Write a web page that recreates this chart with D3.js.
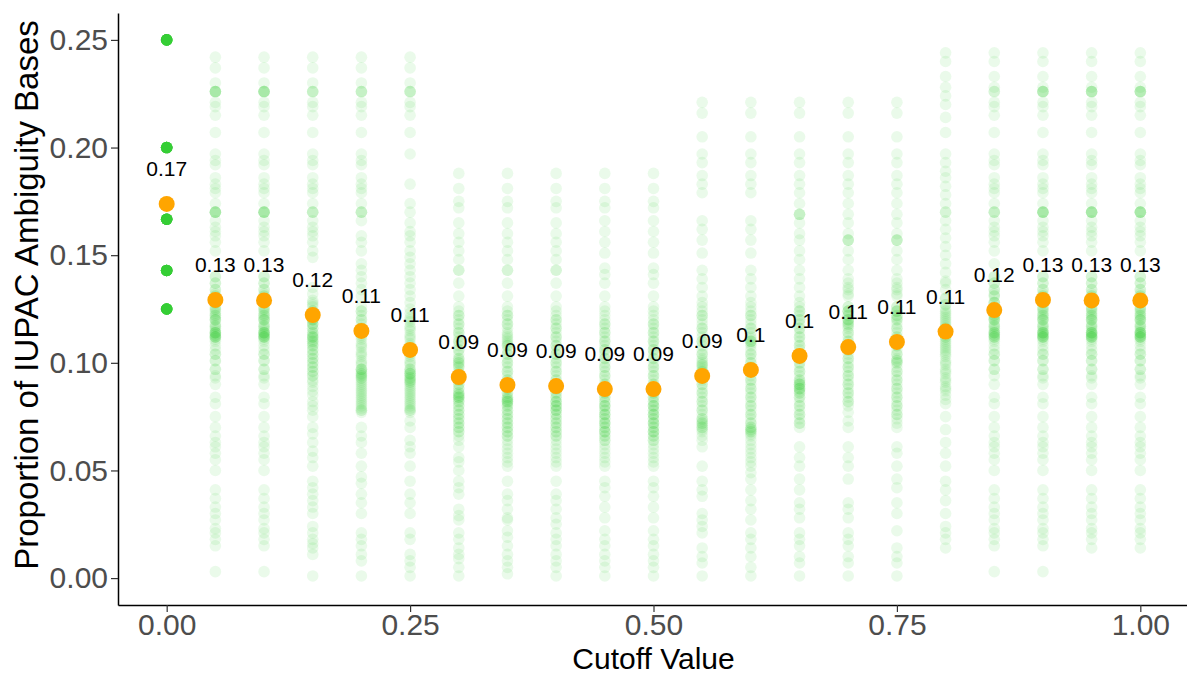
<!DOCTYPE html>
<html>
<head>
<meta charset="utf-8">
<script src="https://cdn.jsdelivr.net/npm/d3@7"></script>
<style>
  body { margin: 0; background: #fff; }
  text { font-family: "Liberation Sans", Arial, sans-serif; }
</style>
</head>
<body>
<div id="chart"></div>
<script>
// cutoff values on the x axis
var cutoffs = [0, 0.05, 0.1, 0.15, 0.2, 0.25, 0.3, 0.35, 0.4, 0.45, 0.5,
  0.55, 0.6, 0.65, 0.7, 0.75, 0.8, 0.85, 0.9, 0.95, 1.0];

// cutoff 0 only has a few distinct values, each repeated many times
var zeroValues = [0.25, 0.2, 0.1667, 0.1429, 0.125];
var zeroCounts = [30, 30, 30, 30, 30];

// per-sample proportions for each other cutoff (spread)
var col005 = [0.242,0.237,0.230,0.226,0.226,0.226,0.221,0.219,0.215,0.207,0.197,0.194,0.192,0.186,0.183,0.181,0.179,0.174,0.170,0.170,0.170,0.166,0.163,0.161,0.159,0.156,0.152,0.140,0.137,0.134,0.131,0.131,0.128,0.128,0.125,0.125,0.122,0.120,0.120,0.117,0.117,0.114,0.114,0.112,0.112,0.110,0.106,0.104,0.101,0.097,0.094,0.090,0.084,0.081,0.075,0.070,0.066,0.063,0.061,0.058,0.055,0.050,0.041,0.037,0.033,0.030,0.027,0.023,0.021,0.018,0.015,0.003];
var col010 = [0.242,0.237,0.230,0.226,0.226,0.226,0.221,0.219,0.215,0.207,0.197,0.194,0.192,0.186,0.183,0.181,0.179,0.174,0.170,0.170,0.170,0.166,0.163,0.161,0.159,0.156,0.152,0.140,0.137,0.134,0.131,0.131,0.128,0.128,0.125,0.125,0.122,0.120,0.120,0.117,0.117,0.114,0.114,0.112,0.112,0.110,0.106,0.104,0.101,0.097,0.094,0.090,0.084,0.081,0.075,0.070,0.066,0.063,0.061,0.058,0.055,0.050,0.041,0.037,0.033,0.030,0.027,0.023,0.021,0.018,0.015,0.003];
var col015 = [0.242,0.237,0.230,0.226,0.226,0.221,0.219,0.215,0.207,0.197,0.194,0.192,0.186,0.183,0.181,0.179,0.174,0.170,0.170,0.166,0.163,0.161,0.159,0.156,0.152,0.149,0.135,0.132,0.129,0.127,0.124,0.122,0.120,0.118,0.116,0.114,0.112,0.112,0.110,0.108,0.106,0.104,0.102,0.100,0.098,0.096,0.094,0.091,0.089,0.087,0.085,0.082,0.080,0.078,0.075,0.070,0.067,0.063,0.059,0.056,0.052,0.045,0.042,0.039,0.036,0.033,0.030,0.024,0.021,0.018,0.016,0.014,0.011,0.001];
var col020 = [0.242,0.237,0.230,0.226,0.226,0.221,0.219,0.215,0.207,0.197,0.194,0.192,0.186,0.183,0.181,0.179,0.174,0.170,0.170,0.166,0.159,0.156,0.152,0.146,0.143,0.140,0.137,0.134,0.131,0.126,0.124,0.122,0.120,0.118,0.116,0.113,0.111,0.109,0.107,0.105,0.103,0.101,0.099,0.097,0.095,0.093,0.091,0.089,0.087,0.085,0.083,0.081,0.079,0.077,0.070,0.066,0.063,0.058,0.052,0.047,0.044,0.039,0.035,0.030,0.021,0.018,0.015,0.011,0.008,0.001];
var col025 = [0.242,0.237,0.230,0.226,0.226,0.221,0.219,0.215,0.207,0.197,0.183,0.174,0.170,0.165,0.161,0.159,0.156,0.152,0.149,0.146,0.143,0.140,0.137,0.134,0.131,0.128,0.125,0.123,0.121,0.119,0.117,0.115,0.113,0.111,0.109,0.107,0.105,0.103,0.101,0.099,0.097,0.095,0.093,0.091,0.089,0.087,0.085,0.083,0.081,0.079,0.077,0.073,0.070,0.064,0.061,0.058,0.052,0.045,0.039,0.035,0.030,0.021,0.018,0.011,0.008,0.005,0.001];
var col030 = [0.188,0.181,0.175,0.172,0.165,0.160,0.156,0.152,0.148,0.143,0.143,0.137,0.131,0.126,0.124,0.122,0.120,0.118,0.116,0.114,0.112,0.110,0.108,0.106,0.104,0.102,0.100,0.098,0.096,0.094,0.092,0.090,0.088,0.086,0.084,0.082,0.080,0.078,0.076,0.074,0.072,0.070,0.068,0.066,0.064,0.061,0.056,0.054,0.050,0.045,0.042,0.039,0.032,0.029,0.027,0.021,0.018,0.014,0.011,0.009,0.005,0.001];
var col035 = [0.188,0.181,0.175,0.172,0.165,0.160,0.156,0.152,0.148,0.143,0.143,0.137,0.131,0.126,0.124,0.122,0.120,0.118,0.116,0.114,0.112,0.110,0.108,0.106,0.104,0.102,0.100,0.098,0.096,0.094,0.092,0.090,0.088,0.086,0.084,0.082,0.080,0.078,0.076,0.074,0.072,0.070,0.068,0.066,0.064,0.062,0.060,0.058,0.056,0.054,0.052,0.045,0.039,0.036,0.032,0.028,0.027,0.022,0.019,0.015,0.011,0.008,0.005,0.002];
var col040 = [0.188,0.181,0.175,0.172,0.165,0.160,0.156,0.152,0.148,0.143,0.143,0.137,0.131,0.126,0.124,0.122,0.120,0.118,0.116,0.114,0.112,0.110,0.108,0.106,0.104,0.102,0.100,0.098,0.096,0.094,0.092,0.090,0.088,0.086,0.084,0.082,0.080,0.078,0.076,0.074,0.072,0.070,0.068,0.066,0.064,0.062,0.060,0.058,0.056,0.054,0.052,0.045,0.039,0.036,0.032,0.028,0.025,0.021,0.018,0.015,0.011,0.008,0.005,0.001];
var col045 = [0.188,0.181,0.175,0.172,0.166,0.161,0.156,0.151,0.144,0.141,0.137,0.131,0.126,0.124,0.122,0.120,0.118,0.116,0.114,0.112,0.110,0.108,0.106,0.104,0.102,0.100,0.098,0.096,0.094,0.092,0.090,0.088,0.086,0.084,0.082,0.080,0.078,0.076,0.074,0.072,0.070,0.068,0.066,0.064,0.062,0.060,0.058,0.056,0.054,0.052,0.045,0.042,0.038,0.033,0.028,0.022,0.018,0.015,0.011,0.008,0.005,0.001];
var col050 = [0.188,0.181,0.175,0.172,0.166,0.161,0.156,0.151,0.144,0.141,0.137,0.131,0.126,0.124,0.122,0.120,0.118,0.116,0.114,0.112,0.110,0.108,0.106,0.104,0.102,0.100,0.098,0.096,0.094,0.092,0.090,0.088,0.086,0.084,0.082,0.080,0.078,0.076,0.074,0.072,0.070,0.068,0.066,0.064,0.062,0.060,0.058,0.056,0.054,0.052,0.045,0.042,0.038,0.033,0.028,0.022,0.018,0.015,0.011,0.008,0.005,0.001];
var col055 = [0.221,0.216,0.205,0.197,0.193,0.187,0.183,0.179,0.166,0.162,0.157,0.151,0.143,0.139,0.135,0.131,0.126,0.124,0.122,0.120,0.118,0.116,0.114,0.112,0.110,0.108,0.106,0.104,0.102,0.100,0.098,0.096,0.094,0.092,0.090,0.088,0.086,0.084,0.082,0.080,0.078,0.076,0.074,0.072,0.070,0.068,0.066,0.064,0.061,0.052,0.045,0.041,0.038,0.030,0.027,0.024,0.021,0.014,0.010,0.007,0.001];
var col060 = [0.221,0.216,0.205,0.197,0.193,0.187,0.183,0.179,0.166,0.162,0.157,0.151,0.143,0.139,0.135,0.131,0.126,0.124,0.122,0.120,0.118,0.116,0.114,0.112,0.110,0.108,0.106,0.104,0.102,0.100,0.098,0.096,0.094,0.092,0.090,0.088,0.086,0.084,0.082,0.080,0.078,0.076,0.074,0.072,0.070,0.068,0.066,0.064,0.062,0.060,0.058,0.056,0.054,0.052,0.049,0.046,0.041,0.036,0.032,0.027,0.021,0.018,0.014,0.010,0.005,0.001];
var col065 = [0.221,0.216,0.205,0.197,0.193,0.187,0.183,0.179,0.174,0.169,0.169,0.165,0.160,0.157,0.152,0.148,0.143,0.139,0.135,0.131,0.126,0.124,0.122,0.120,0.118,0.116,0.114,0.112,0.110,0.108,0.106,0.104,0.102,0.100,0.098,0.096,0.094,0.092,0.090,0.088,0.086,0.084,0.082,0.080,0.078,0.076,0.074,0.072,0.070,0.061,0.056,0.052,0.046,0.041,0.035,0.032,0.028,0.021,0.018,0.015,0.010,0.007,0.001];
var col070 = [0.221,0.216,0.205,0.197,0.193,0.187,0.183,0.179,0.174,0.169,0.165,0.160,0.157,0.157,0.152,0.148,0.143,0.139,0.135,0.131,0.126,0.124,0.122,0.120,0.118,0.116,0.114,0.112,0.110,0.108,0.106,0.104,0.102,0.100,0.098,0.096,0.094,0.092,0.090,0.088,0.086,0.084,0.082,0.080,0.077,0.073,0.070,0.061,0.056,0.052,0.046,0.035,0.032,0.028,0.021,0.018,0.015,0.010,0.007,0.001];
var col075 = [0.221,0.216,0.205,0.197,0.193,0.187,0.183,0.179,0.174,0.169,0.165,0.160,0.157,0.157,0.152,0.148,0.143,0.139,0.135,0.131,0.126,0.124,0.122,0.120,0.118,0.116,0.114,0.112,0.110,0.108,0.106,0.104,0.102,0.100,0.098,0.096,0.094,0.092,0.090,0.088,0.086,0.084,0.082,0.080,0.078,0.076,0.074,0.072,0.070,0.061,0.058,0.052,0.046,0.042,0.035,0.030,0.022,0.014,0.010,0.007,0.001];
var col080 = [0.244,0.240,0.233,0.228,0.224,0.220,0.214,0.207,0.197,0.193,0.189,0.186,0.182,0.178,0.174,0.170,0.166,0.162,0.158,0.154,0.150,0.146,0.142,0.138,0.134,0.130,0.127,0.125,0.123,0.121,0.119,0.117,0.115,0.113,0.111,0.109,0.107,0.105,0.103,0.101,0.099,0.097,0.095,0.093,0.091,0.089,0.087,0.085,0.083,0.081,0.075,0.069,0.063,0.058,0.052,0.045,0.041,0.036,0.030,0.024,0.021,0.018,0.014];
var col085 = [0.244,0.240,0.233,0.228,0.226,0.221,0.219,0.215,0.207,0.197,0.194,0.192,0.186,0.183,0.181,0.179,0.174,0.170,0.170,0.166,0.163,0.161,0.159,0.156,0.152,0.146,0.140,0.137,0.134,0.131,0.131,0.128,0.128,0.125,0.125,0.122,0.120,0.120,0.117,0.117,0.114,0.114,0.112,0.112,0.110,0.106,0.104,0.101,0.097,0.094,0.090,0.084,0.081,0.075,0.070,0.066,0.063,0.061,0.058,0.055,0.050,0.041,0.037,0.033,0.030,0.027,0.023,0.021,0.018,0.015,0.003];
var col090 = [0.244,0.240,0.233,0.228,0.226,0.226,0.221,0.219,0.215,0.207,0.197,0.194,0.192,0.186,0.183,0.181,0.179,0.174,0.170,0.170,0.170,0.166,0.163,0.161,0.159,0.156,0.152,0.140,0.137,0.134,0.131,0.131,0.128,0.128,0.125,0.125,0.122,0.120,0.120,0.117,0.117,0.114,0.114,0.112,0.112,0.110,0.106,0.104,0.101,0.097,0.094,0.090,0.084,0.081,0.075,0.070,0.066,0.063,0.061,0.058,0.055,0.050,0.041,0.037,0.033,0.030,0.027,0.023,0.021,0.018,0.015,0.003];
var col095 = [0.244,0.240,0.233,0.228,0.226,0.226,0.221,0.219,0.215,0.207,0.197,0.194,0.192,0.186,0.183,0.181,0.179,0.174,0.170,0.170,0.170,0.166,0.163,0.161,0.159,0.156,0.152,0.140,0.137,0.134,0.131,0.131,0.128,0.128,0.125,0.125,0.122,0.120,0.120,0.117,0.117,0.114,0.114,0.112,0.112,0.110,0.106,0.104,0.101,0.097,0.094,0.090,0.084,0.081,0.075,0.070,0.066,0.063,0.061,0.058,0.055,0.050,0.041,0.037,0.033,0.030,0.027,0.023,0.021,0.018,0.014];
var col100 = [0.244,0.240,0.233,0.228,0.226,0.226,0.221,0.219,0.215,0.207,0.197,0.194,0.192,0.186,0.183,0.181,0.179,0.174,0.170,0.170,0.170,0.166,0.163,0.161,0.159,0.156,0.152,0.140,0.137,0.134,0.131,0.131,0.128,0.128,0.125,0.125,0.122,0.120,0.120,0.117,0.117,0.114,0.114,0.112,0.112,0.110,0.106,0.104,0.101,0.097,0.094,0.090,0.084,0.081,0.075,0.070,0.066,0.063,0.061,0.058,0.055,0.050,0.041,0.037,0.033,0.030,0.027,0.023,0.021,0.018,0.014];

// extra samples in the crowded band of each cutoff (darker zones)
var core005 = [0.226,0.226,0.170,0.170,0.140,0.137,0.134,0.132,0.128,0.126,0.124,0.123,0.122,0.121,0.120,0.118,0.116,0.115,0.114,0.113,0.112,0.111,0.113,0.112,0.114,0.108,0.104,0.101,0.097,0.093];
var core010 = [0.226,0.226,0.170,0.170,0.140,0.137,0.134,0.132,0.128,0.126,0.124,0.123,0.122,0.121,0.120,0.118,0.116,0.115,0.114,0.113,0.112,0.111,0.113,0.112,0.114,0.108,0.104,0.101,0.097,0.093];
var core015 = [0.226,0.170,0.128,0.126,0.124,0.122,0.120,0.118,0.116,0.114,0.112,0.110,0.108,0.106,0.104,0.102,0.100,0.098,0.096,0.094,0.092,0.113,0.111,0.109,0.120,0.118];
var core020 = [0.226,0.170,0.124,0.120,0.116,0.112,0.108,0.104,0.100,0.097,0.096,0.095,0.094,0.093,0.092,0.090,0.088,0.086,0.084,0.082,0.080,0.078,0.078,0.097,0.094];
var core025 = [0.226,0.120,0.116,0.112,0.108,0.104,0.100,0.097,0.096,0.095,0.094,0.093,0.092,0.091,0.090,0.088,0.086,0.084,0.082,0.080,0.078,0.078,0.095,0.092];
var core030 = [0.122,0.118,0.114,0.110,0.106,0.102,0.101,0.100,0.099,0.098,0.095,0.092,0.090,0.088,0.086,0.085,0.084,0.083,0.082,0.080,0.078,0.076,0.074,0.072,0.070,0.068,0.085,0.084];
var core035 = [0.122,0.118,0.113,0.111,0.109,0.108,0.104,0.100,0.096,0.092,0.088,0.086,0.084,0.083,0.082,0.081,0.080,0.078,0.076,0.074,0.072,0.070,0.068,0.066,0.083,0.082];
var core040 = [0.120,0.116,0.112,0.108,0.104,0.100,0.096,0.092,0.090,0.088,0.086,0.084,0.082,0.080,0.078,0.076,0.074,0.072,0.070,0.068,0.066,0.082,0.080,0.078];
var core045 = [0.118,0.114,0.110,0.106,0.102,0.098,0.094,0.090,0.088,0.086,0.084,0.082,0.080,0.078,0.076,0.074,0.072,0.070,0.068,0.066,0.064,0.080,0.076,0.072,0.068];
var core050 = [0.118,0.114,0.110,0.106,0.102,0.098,0.094,0.090,0.088,0.086,0.084,0.082,0.080,0.078,0.076,0.074,0.072,0.070,0.068,0.066,0.064,0.080,0.076,0.072,0.068];
var core055 = [0.128,0.122,0.116,0.110,0.104,0.101,0.099,0.097,0.095,0.093,0.090,0.086,0.082,0.078,0.074,0.073,0.072,0.071,0.070,0.069,0.099,0.096];
var core060 = [0.128,0.122,0.116,0.111,0.110,0.109,0.104,0.100,0.096,0.092,0.088,0.084,0.080,0.076,0.072,0.070,0.069,0.068,0.067,0.110,0.069];
var core065 = [0.128,0.124,0.120,0.116,0.112,0.108,0.104,0.100,0.096,0.092,0.091,0.090,0.089,0.088,0.087,0.086,0.084,0.080,0.076,0.072,0.090,0.088,0.169];
var core070 = [0.157,0.137,0.134,0.132,0.126,0.124,0.122,0.120,0.119,0.118,0.117,0.114,0.110,0.106,0.102,0.098,0.094,0.090,0.086,0.082,0.124,0.120];
var core075 = [0.157,0.137,0.134,0.132,0.126,0.124,0.122,0.121,0.120,0.116,0.112,0.108,0.104,0.101,0.100,0.096,0.092,0.088,0.084,0.080,0.076,0.124,0.101];
var core080 = [0.170,0.137,0.130,0.127,0.124,0.122,0.120,0.118,0.116,0.114,0.112,0.110,0.108,0.106,0.104,0.100,0.096,0.092,0.088,0.116,0.112];
var core085 = [0.226,0.170,0.140,0.137,0.134,0.132,0.128,0.126,0.124,0.123,0.122,0.121,0.120,0.118,0.116,0.115,0.114,0.113,0.112,0.111,0.113,0.108,0.104,0.101,0.097];
var core090 = [0.226,0.226,0.170,0.170,0.140,0.137,0.134,0.132,0.128,0.126,0.124,0.123,0.122,0.121,0.120,0.118,0.116,0.115,0.114,0.113,0.112,0.111,0.113,0.112,0.114,0.108,0.104,0.101,0.097,0.093];
var core095 = [0.226,0.226,0.170,0.170,0.140,0.137,0.134,0.132,0.128,0.126,0.124,0.123,0.122,0.121,0.120,0.118,0.116,0.115,0.114,0.113,0.112,0.111,0.113,0.112,0.114,0.108,0.104,0.101,0.097,0.093];
var core100 = [0.226,0.226,0.170,0.170,0.140,0.137,0.134,0.132,0.128,0.126,0.124,0.123,0.122,0.121,0.120,0.118,0.116,0.115,0.114,0.113,0.112,0.111,0.113,0.112,0.114,0.108,0.104,0.101,0.097,0.093];

// mean proportion at each cutoff (orange points)
var means = [0.1738, 0.1292, 0.1290, 0.1222, 0.1148, 0.1060, 0.0934, 0.0897, 0.0892, 0.0878, 0.0878,
  0.0939, 0.0967, 0.1032, 0.1073, 0.1097, 0.1145, 0.1245, 0.1292, 0.1290, 0.1290];

var yTicks = [0, 0.05, 0.1, 0.15, 0.2, 0.25];
var xTicks = [0, 0.25, 0.5, 0.75, 1];

var width = 1187, height = 675;
var margin = {left: 118, right: -2, top: 13, bottom: 70};

var svg = d3.select("#chart").append("svg")
  .attr("width", width)
  .attr("height", height);

var x = d3.scaleLinear().domain([-0.05, 1.05]).range([margin.left, width - margin.right]);
var y = d3.scaleLinear().domain([-0.0125, 0.2625]).range([height - margin.bottom, margin.top]);

// flatten all samples into points
var zeroCol = [];
zeroValues.forEach(function(v, i) {
  d3.range(zeroCounts[i]).forEach(function() { zeroCol.push(v); });
});
var columns = [zeroCol,
  col005.concat(core005), col010.concat(core010), col015.concat(core015), col020.concat(core020),
  col025.concat(core025), col030.concat(core030), col035.concat(core035), col040.concat(core040),
  col045.concat(core045), col050.concat(core050), col055.concat(core055), col060.concat(core060),
  col065.concat(core065), col070.concat(core070), col075.concat(core075), col080.concat(core080),
  col085.concat(core085), col090.concat(core090), col095.concat(core095), col100.concat(core100)];
var points = [];
columns.forEach(function(col, i) {
  col.forEach(function(v) { points.push({cutoff: cutoffs[i], value: v}); });
});

svg.append("g").selectAll("circle")
  .data(points)
  .enter().append("circle")
  .attr("cx", function(d) { return x(d.cutoff); })
  .attr("cy", function(d) { return y(d.value); })
  .attr("r", 5.8)
  .attr("fill", "#32CD32")
  .attr("fill-opacity", 0.1);

// means
var meanData = cutoffs.map(function(c, i) { return {cutoff: c, mean: means[i]}; });
svg.append("g").selectAll("circle")
  .data(meanData)
  .enter().append("circle")
  .attr("cx", function(d) { return x(d.cutoff); })
  .attr("cy", function(d) { return y(d.mean); })
  .attr("r", 8)
  .attr("fill", "#FFA500");

svg.append("g").selectAll("text")
  .data(meanData)
  .enter().append("text")
  .attr("x", function(d) { return x(d.cutoff); })
  .attr("y", function(d) { return y(d.mean + 0.0165); })
  .attr("dy", "0.36em")
  .attr("text-anchor", "middle")
  .attr("font-size", 21)
  .attr("fill", "#000")
  .text(function(d) { return String(+d.mean.toFixed(2)); });

// axes
var xAxis = svg.append("g")
  .attr("transform", "translate(0," + (height - margin.bottom) + ")")
  .call(d3.axisBottom(x).tickValues(xTicks).tickFormat(d3.format(".2f")).tickSize(7).tickSizeOuter(0).tickPadding(1.5));
var yAxis = svg.append("g")
  .attr("transform", "translate(" + margin.left + ",0)")
  .call(d3.axisLeft(y).tickValues(yTicks).tickFormat(d3.format(".2f")).tickSize(7).tickSizeOuter(0).tickPadding(3));

[xAxis, yAxis].forEach(function(ax) {
  ax.select(".domain").attr("stroke", "#000").attr("stroke-width", 1.5);
  ax.selectAll(".tick line").attr("stroke", "#333").attr("stroke-width", 1.2);
  ax.selectAll(".tick text").attr("fill", "#4d4d4d").attr("font-size", 30)
    .attr("font-family", '"Liberation Sans", Arial, sans-serif');
});

svg.append("text")
  .attr("x", (margin.left + width - margin.right) / 2)
  .attr("y", 668.5)
  .attr("text-anchor", "middle")
  .attr("font-size", 30)
  .text("Cutoff Value");

svg.append("text")
  .attr("transform", "translate(38,295) rotate(-90)")
  .attr("text-anchor", "middle")
  .attr("font-size", 33)
  .text("Proportion of IUPAC Ambiguity Bases");
</script>
</body>
</html>
